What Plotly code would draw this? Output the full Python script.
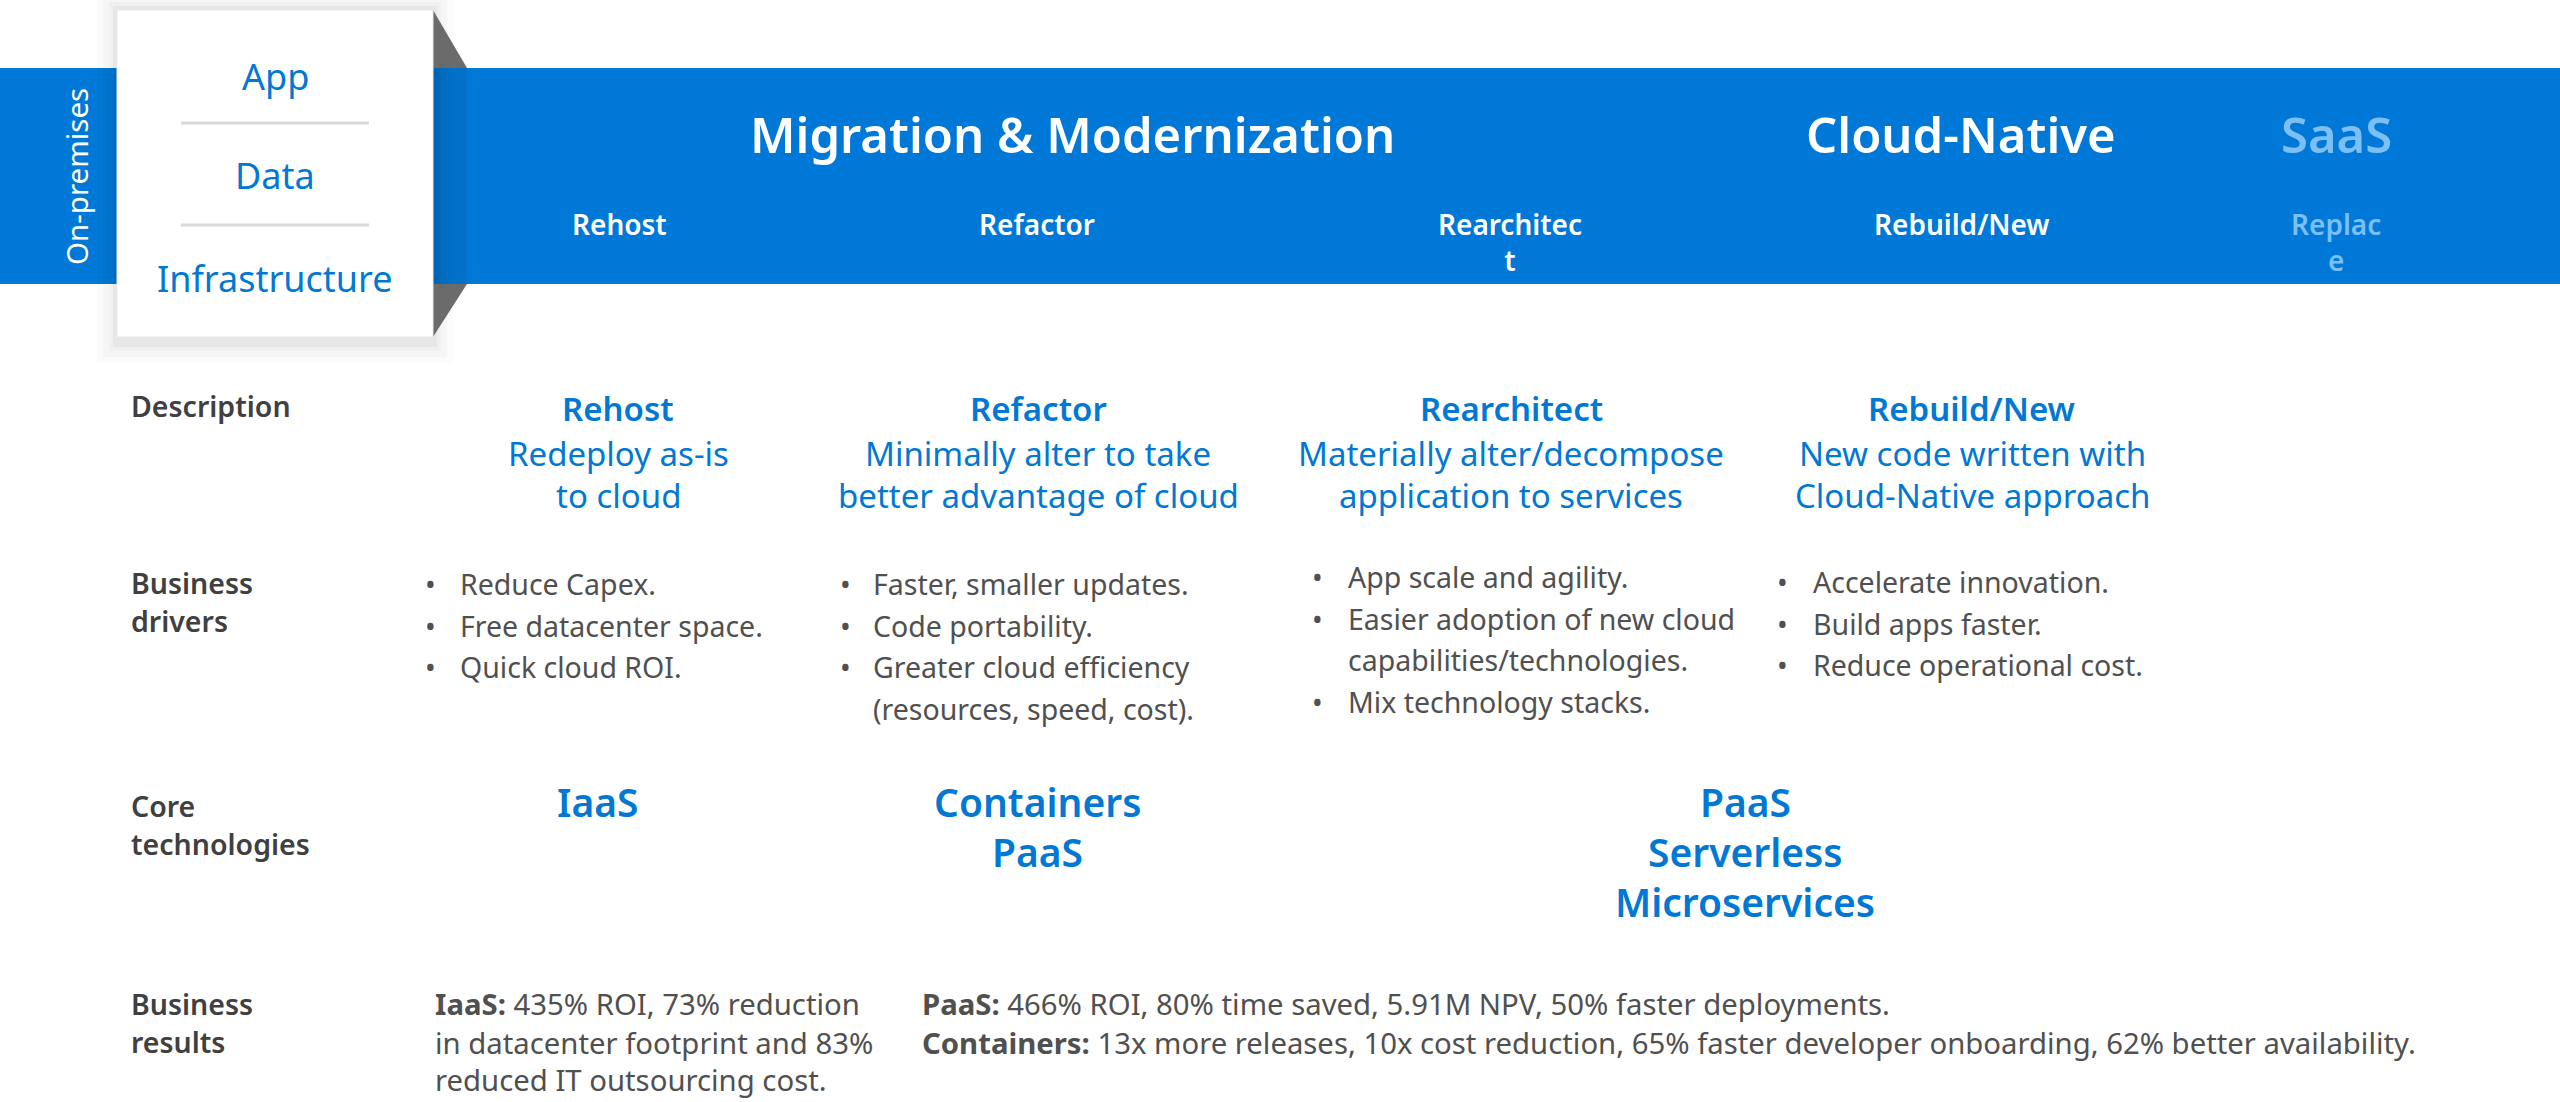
import plotly.graph_objects as go

# ---------------- data ----------------
stack_layers = ["App", "Data", "Infrastructure"]
side_label = "On-premises"
phases = ["Migration & Modernization", "Cloud-Native", "SaaS"]
strategies = ["Rehost", "Refactor", "Rearchitec<br>t", "Rebuild/New", "Replac<br>e"]
row_labels = [["Description"], ["Business", "drivers"], ["Core", "technologies"], ["Business", "results"]]
desc_titles = ["Rehost", "Refactor", "Rearchitect", "Rebuild/New"]
desc_lines = [
    ["Redeploy as-is", "to cloud"],
    ["Minimally alter to take", "better advantage of cloud"],
    ["Materially alter/decompose", "application to services"],
    ["New code written with", "Cloud-Native approach"],
]
drivers = [
    ["Reduce Capex.", "Free datacenter space.", "Quick cloud ROI."],
    ["Faster, smaller updates.", "Code portability.", "Greater cloud efficiency", "(resources, speed, cost)."],
    ["App scale and agility.", "Easier adoption of new cloud", "capabilities/technologies.", "Mix technology stacks."],
    ["Accelerate innovation.", "Build apps faster.", "Reduce operational cost."],
]
driver_bullet_flags = [
    [1, 1, 1],
    [1, 1, 1, 0],
    [1, 1, 0, 1],
    [1, 1, 1],
]
core_tech = [["IaaS"], ["Containers", "PaaS"], ["PaaS", "Serverless", "Microservices"]]
results = [
    ["<b>IaaS:</b> 435% ROI, 73% reduction", "in datacenter footprint and 83%", "reduced IT outsourcing cost."],
    ["<b>PaaS:</b> 466% ROI, 80% time saved, 5.91M NPV, 50% faster deployments.",
     "<b>Containers:</b> 13x more releases, 10x cost reduction, 65% faster developer onboarding, 62% better availability."],
]

# ---------------- style ----------------
W, H = 2560, 1102
FONT = "Noto Sans"
BLUE = "#0078D7"
TBLUE = "#0078D4"
LIGHT = "#7cbff5"
LABEL = "#404040"
BODY = "#505050"

fig = go.Figure()
fig.update_layout(
    width=W, height=H, margin=dict(l=0, r=0, t=0, b=0),
    paper_bgcolor="white", plot_bgcolor="white", showlegend=False,
    xaxis=dict(range=[0, W], visible=False, fixedrange=True),
    yaxis=dict(range=[H, 0], visible=False, fixedrange=True),
)

shapes = []
# band
shapes.append(dict(type="rect", x0=0, x1=W, y0=68, y1=284, fillcolor=BLUE, line_width=0, layer="below"))
shapes.append(dict(type="rect", x0=433, x1=467, y0=68, y1=284, fillcolor="#0070c9", line_width=0, layer="below"))
# shadow around box
for pad, a in [(20, 0.015), (14, 0.02), (8, 0.025), (4, 0.035)]:
    shapes.append(dict(type="rect", x0=117 - pad, x1=433 + pad, y0=10 - pad, y1=337 + pad + 6,
                       fillcolor=f"rgba(0,0,0,{a})", line_width=0, layer="below"))
# fold triangles
shapes.append(dict(type="path", path="M 433,10 L 467,68 L 433,68 Z", fillcolor="#6b6b6b", line_width=0))
shapes.append(dict(type="path", path="M 433,284 L 467,284 L 433,337 Z", fillcolor="#6b6b6b", line_width=0))
# white box
shapes.append(dict(type="rect", x0=117, x1=433, y0=10, y1=337, fillcolor="white", line=dict(color="#e8e8e8", width=1)))
# separators
for y in [123, 225]:
    shapes.append(dict(type="line", x0=181, x1=369, y0=y, y1=y, line=dict(color="#d9d9d9", width=3)))
fig.update_layout(shapes=shapes)

ann = []
def T(x, y, text, size, color, xanchor="center", yanchor="middle", angle=0, weight=None):
    f = dict(family=FONT, size=size, color=color)
    if weight:
        f["weight"] = weight
    ann.append(dict(x=x, y=y, xref="x", yref="y", text=text, showarrow=False, xanchor=xanchor,
                    yanchor=yanchor, textangle=angle, align="center" if xanchor == "center" else "left",
                    font=f))

# left box
T(76, 177, side_label, 29.5, "white", angle=-90)
for lab, y in zip(stack_layers, [76, 175, 278]):
    T(275, y, lab, 36, TBLUE)

# band titles
for ph, x, c in zip(phases, [1072, 1961, 2336], ["white", "white", LIGHT]):
    T(x, 134, ph, 49, c, weight=600)
for st, x, c in zip(strategies, [619, 1037, 1510, 1962, 2336], ["white"] * 4 + [LIGHT, LIGHT]):
    T(x, 203, st, 28, c, yanchor="top", weight=600)

# row labels
label_y = [[406], [583, 621], [806, 844], [1004, 1042]]
for labs, ys in zip(row_labels, label_y):
    for lab, y in zip(labs, ys):
        T(129, y, lab, 28.5, LABEL, xanchor="left", weight=600)

# description
col_cx = [618, 1038, 1511, 1972]
for t, lines, x in zip(desc_titles, desc_lines, col_cx):
    T(x, 408, t, 33, TBLUE, weight=600)
    for ln, y in zip(lines, [453, 495]):
        T(x, y, ln, 33, TBLUE)

# drivers
bullet_x = [423, 838, 1310, 1775]
text_x = [458, 871, 1346, 1811]
first_y = [584, 584, 577, 582]
for items, flags, bx, tx, y0 in zip(drivers, driver_bullet_flags, bullet_x, text_x, first_y):
    for i, (it, f) in enumerate(zip(items, flags)):
        y = y0 + i * 41.5
        if f:
            T(bx, y, "•", 28.5, BODY, xanchor="left")
        T(tx, y, it, 28.5, BODY, xanchor="left")

# core technologies
for techs, x in zip(core_tech, [598, 1037, 1745]):
    for i, tname in enumerate(techs):
        T(x, 801 + i * 50, tname, 39, TBLUE, weight=600)

# results
res_y = [1004, 1043, 1080]
for lines, x in zip(results, [433, 920]):
    for ln, y in zip(lines, res_y):
        T(x, y, ln, 29.3, BODY, xanchor="left")

fig.update_layout(annotations=ann)
fig.write_html("out.html", config={"displayModeBar": False},
               post_script="document.body.style.margin='0';document.body.style.overflow='hidden';")
